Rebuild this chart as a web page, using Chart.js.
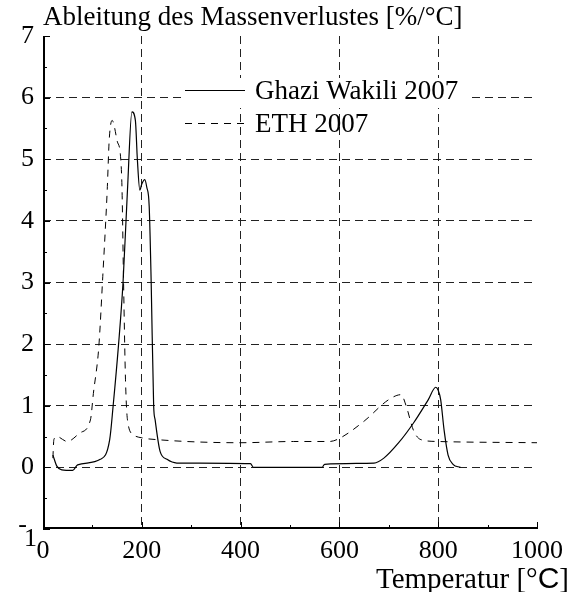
<!DOCTYPE html>
<html>
<head>
<meta charset="utf-8">
<script src="https://cdn.jsdelivr.net/npm/chart.js@4/dist/chart.umd.min.js"></script>
<style>
html,body{margin:0;padding:0;background:#fff;}
#wrap{width:571px;height:592px;}
</style>
</head>
<body>
<div id="wrap"><canvas id="c" width="571" height="592"></canvas></div>
<script>
// data
const xTicks=[0,200,400,600,800,1000];
const yTicks=[-1,0,1,2,3,4,5,6,7];
const seriesNames=['Ghazi Wakili 2007','ETH 2007'];

const ghaziT=[20,28,38,60,70,116,135,142,153,162,171,180,187,191,196,200,206,210,215,219,224,227,237,251,271,420,426,565,570,670,690,720,750,780,795,800,805,812,820,830,845];
const ghaziV=[0.2,0.02,-0.04,-0.05,0.04,0.13,0.45,1.0,2.0,3.0,4.5,5.77,5.63,5.0,4.5,4.6,4.67,4.55,4.23,3.0,1.0,0.77,0.26,0.13,0.07,0.06,0.0,0.0,0.05,0.07,0.15,0.4,0.72,1.1,1.3,1.25,1.1,0.6,0.2,0.05,0.0];

const ethT=[20,22,28,49,75,96,102,113,121,130,134,140,143,150,157,160,163,167,171,183,200,231,400,507,580,600,650,700,725,735,750,765,800,1000];
const ethV=[0.15,0.45,0.5,0.42,0.56,0.77,1.2,1.96,3.1,4.5,5.31,5.63,5.58,5.3,5.04,4.5,3.04,1.42,0.77,0.53,0.48,0.45,0.4,0.42,0.42,0.47,0.75,1.1,1.18,1.0,0.6,0.45,0.42,0.4];

const titleText='Ableitung des Massenverlustes [%/°C]';
const serif='"Liberation Serif", "DejaVu Serif", serif';
const sans='"Liberation Sans", Arial, sans-serif';

function pts(xs,ys){return xs.map((x,i)=>({x:x,y:ys[i]}));}

// extra drawing: title, axis label, legend, inner ticks
const decor={
  id:'decor',
  afterDraw(chart){
    const ctx=chart.ctx, a=chart.chartArea;
    const xs=chart.scales.x, ys=chart.scales.y;
    ctx.save();
    ctx.strokeStyle='#000';
    ctx.lineWidth=1;
    // inner ticks
    for(let v=-1;v<=7;v+=0.5){
      const p=Math.round(ys.getPixelForValue(v))+0.5;
      const len=(v%1===0)?7:4;
      ctx.beginPath();ctx.moveTo(a.left,p);ctx.lineTo(a.left+len,p);ctx.stroke();
    }
    for(let v=0;v<=1000;v+=100){
      const p=Math.round(xs.getPixelForValue(v))+0.5;
      const len=(v%200===0)?7:4;
      ctx.beginPath();ctx.moveTo(p,a.bottom);ctx.lineTo(p,a.bottom-len);ctx.stroke();
    }
    // axes (left and bottom only)
    ctx.lineWidth=2;
    ctx.beginPath();
    ctx.moveTo(a.left+1,a.top);ctx.lineTo(a.left+1,a.bottom-1);ctx.lineTo(a.right,a.bottom-1);
    ctx.stroke();

    ctx.fillStyle='#000';
    ctx.textBaseline='middle';
    // the -1 label is set with a raised minus, as in the original
    const pm=ys.getPixelForValue(-1);
    ctx.font='26px '+serif;
    ctx.textAlign='right';
    ctx.fillText('-',27,pm-4);
    ctx.fillText('1',37,pm+10);

    // legend
    ctx.textAlign='left';
    ctx.fillStyle='#fff';
    ctx.fillRect(183,78,286,30);
    ctx.lineWidth=1;
    ctx.setLineDash([]);
    ctx.beginPath();ctx.moveTo(185,90.5);ctx.lineTo(245,90.5);ctx.stroke();
    ctx.setLineDash([7,6]);
    ctx.beginPath();ctx.moveTo(185,123.5);ctx.lineTo(245,123.5);ctx.stroke();
    ctx.setLineDash([]);
    ctx.fillStyle='#000';
    ctx.font='27px '+serif;
    ctx.fillText(seriesNames[0],255,92);
    ctx.fillText(seriesNames[1],255,125);

    // title
    ctx.font='27px '+serif;
    ctx.fillText(titleText,43,18);

    // x axis label (the C is set in a sans face like the original)
    const y=580, fs=29;
    ctx.font=fs+'px '+serif;
    const w1=ctx.measureText('Temperatur [°').width, w3=ctx.measureText(']').width;
    ctx.font=(fs+1)+'px '+sans;
    const w2=ctx.measureText('C').width;
    let x=569-(w1+w2+w3);
    ctx.font=fs+'px '+serif;
    ctx.fillText('Temperatur [°',x,y);
    x+=w1;
    ctx.font=(fs+1)+'px '+sans;
    ctx.fillText('C',x,y);
    x+=w2;
    ctx.font=fs+'px '+serif;
    ctx.fillText(']',x,y);
    ctx.restore();
  }
};

const gridColor=c=>(c.tick && (c.tick.value===7||c.tick.value===1000||c.tick.value===0&&c.scale.axis==='x'||c.tick.value===-1))?'rgba(0,0,0,0)':'#222';

new Chart(document.getElementById('c'),{
  type:'line',
  data:{
    datasets:[
      {label:seriesNames[0],data:pts(ghaziT,ghaziV),borderColor:'#000',borderWidth:1.2,pointRadius:0,cubicInterpolationMode:'monotone',fill:false},
      {label:seriesNames[1],data:pts(ethT,ethV),borderColor:'#000',borderWidth:1,borderDash:[7,6],pointRadius:0,cubicInterpolationMode:'monotone',fill:false}
    ]
  },
  options:{
    responsive:false,
    animation:false,
    layout:{padding:{top:36,right:34,left:0,bottom:0}},
    plugins:{legend:{display:false},tooltip:{enabled:false}},
    scales:{
      x:{
        type:'linear',min:0,max:1000,
        afterBuildTicks(s){s.ticks=xTicks.map(v=>({value:v}));},
        afterFit(s){s.height=63;},
        ticks:{font:{family:serif,size:26},color:'#000',padding:7,maxRotation:0,callback:v=>String(v)},
        grid:{color:gridColor,lineWidth:1,drawTicks:false},
        border:{display:false,dash:[8,5]}
      },
      y:{
        type:'linear',min:-1,max:7,
        afterBuildTicks(s){s.ticks=yTicks.map(v=>({value:v}));},
        afterFit(s){s.width=43;},
        ticks:{font:{family:serif,size:26},color:'#000',padding:9,callback:v=>v===-1?'':String(v)},
        grid:{color:gridColor,lineWidth:1,drawTicks:false},
        border:{display:false,dash:[8,5]}
      }
    }
  },
  plugins:[decor]
});
</script>
</body>
</html>
